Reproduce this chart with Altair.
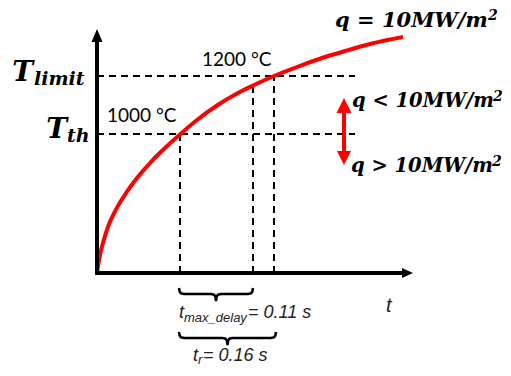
import altair as alt
import pandas as pd

# ---- data (schematic units: t to the right, T upward, origin at the axes' corner) ----
curve_t = [0, 1, 3, 5, 10, 20, 30, 40, 55, 70, 83, 100, 120, 140, 156, 177, 200, 225, 250, 275, 306]
curve_T = [0, 7, 18, 26.4, 43.4, 65.4, 81.4, 94.9, 112.2, 126.9, 138.6, 153, 167.5, 179.5, 187.5,
           197, 206, 215, 222.5, 229.5, 236]

T_th = 139
T_limit = 197
t_th = 83
t_delay = 156
T_delay = 190
t_r = 177
guide_end = 258
t_axis_end = 316
T_axis_end = 244

arrow_x = 247
arrow_top = 175
arrow_bottom = 108

brace_spans = [(82, 156), (82, 179)]
brace_tops = [-15, -59]

serif_labels = ["T", "limit", "T", "th",
                "q = 10MW/m", "2", "q < 10MW/m", "2", "q > 10MW/m", "2"]
serif_x = [-64, -63, -30, -30, 238, 391, 255, 396, 254, 395]
serif_y = [192, 188, 135, 131, 246, 253, 166, 172, 101, 107]
serif_sizes = [28, 19, 28, 19, 21, 14, 19.5, 14, 19.5, 14]

temp_labels = ["1000 °C", "1200 °C"]
temp_x = [10, 105]
temp_y = [151, 207]

time_labels = ["t", "max_delay", "= 0.11 s", "t", "r", "= 0.16 s", "t"]
time_x = [82, 87, 151, 96, 101, 106, 289]
time_y = [-45, -49, -45, -88, -91, -88, -39]
time_sizes = [18, 13, 18, 18, 13, 18, 20]

# ---- scales ----
xs = alt.Scale(domain=[-89, 406], nice=False, zero=False)
ys = alt.Scale(domain=[-95, 265], nice=False, zero=False)

def X(f="x"):
    return alt.X(f"{f}:Q", scale=xs, axis=None)

def Y(f="y"):
    return alt.Y(f"{f}:Q", scale=ys, axis=None)

# axes
axes_df = pd.DataFrame({
    "x": [0, 0], "x2": [0, t_axis_end - 9],
    "y": [0, 0], "y2": [T_axis_end - 11, 0],
})
axes = alt.Chart(axes_df).mark_rule(color="black", strokeWidth=4, strokeCap="square").encode(
    x=X(), x2="x2:Q", y=Y(), y2="y2:Q")

heads_df = pd.DataFrame({"x": [0], "y": [T_axis_end - 6.5]})
yhead = alt.Chart(heads_df).mark_point(
    shape="M0,-1L0.85,1L-0.85,1Z", size=169, filled=True, color="black", opacity=1
).encode(x=X(), y=Y())
xhead_df = pd.DataFrame({"x": [t_axis_end - 5.5], "y": [0]})
xhead = alt.Chart(xhead_df).mark_point(
    shape="M1,0L-1,0.9L-1,-0.9Z", size=121, filled=True, color="black", opacity=1
).encode(x=X(), y=Y())

# dashed guides
guides_df = pd.DataFrame({
    "x": [0, 0, t_th, t_delay, t_r],
    "x2": [guide_end, guide_end, t_th, t_delay, t_r],
    "y": [T_th, T_limit, 0, 0, 0],
    "y2": [T_th, T_limit, T_th, T_delay, T_limit],
})
guides = alt.Chart(guides_df).mark_rule(color="black", strokeWidth=2, strokeDash=[7, 5]).encode(
    x=X(), x2="x2:Q", y=Y(), y2="y2:Q")

# curve
curve_df = pd.DataFrame({"x": curve_t, "y": curve_T, "o": list(range(len(curve_t)))})
curve = alt.Chart(curve_df).mark_line(color="#ff0000", strokeWidth=4, interpolate="monotone").encode(
    x=X(), y=Y(), order="o:Q")

# red double arrow
shaft_df = pd.DataFrame({"x": [arrow_x], "y": [arrow_bottom + 13], "y2": [arrow_top - 15]})
shaft = alt.Chart(shaft_df).mark_rule(color="#ff0000", strokeWidth=4).encode(x=X(), y=Y(), y2="y2:Q")
up_df = pd.DataFrame({"x": [arrow_x], "y": [arrow_top - 7.5]})
up = alt.Chart(up_df).mark_point(shape="M0,-1L1,1L-1,1Z", size=225, filled=True,
                                 color="#ff0000", opacity=1).encode(x=X(), y=Y())
dn_df = pd.DataFrame({"x": [arrow_x], "y": [arrow_bottom + 7]})
dn = alt.Chart(dn_df).mark_point(shape="M0,1L1,-1L-1,-1Z", size=196, filled=True,
                                 color="#ff0000", opacity=1).encode(x=X(), y=Y())

# braces
rows = []
for b, ((x0, x1), yt) in enumerate(zip(brace_spans, brace_tops)):
    yf = yt - 6
    yp = yt - 13
    xm = (x0 + x1) / 2
    pts = [(x0, yt), (x0 + 0.6, yf + 2.5), (x0 + 2, yf + 0.7), (x0 + 5, yf),
           (xm - 5, yf), (xm - 2, yf - 0.7), (xm - 0.6, yf - 2.5), (xm, yp),
           (xm + 0.6, yf - 2.5), (xm + 2, yf - 0.7), (xm + 5, yf),
           (x1 - 5, yf), (x1 - 2, yf + 0.7), (x1 - 0.6, yf + 2.5), (x1, yt)]
    for i, (px, py) in enumerate(pts):
        rows.append({"x": px, "y": py, "o": i, "b": b})
brace_df = pd.DataFrame(rows)
braces = alt.Chart(brace_df).mark_line(color="black", strokeWidth=2.5).encode(
    x=X(), y=Y(), order="o:Q", detail="b:N")

# serif (math) labels
serif_df = pd.DataFrame({"text": serif_labels, "x": serif_x, "y": serif_y, "size": serif_sizes,
                         "align": ["right", "left", "right", "left"] + ["left"] * 6})
serif_layers = []
for al in ["left", "right"]:
    for sz in sorted(set(serif_sizes)):
        sub = serif_df[(serif_df["align"] == al) & (serif_df["size"] == sz)]
        if len(sub) == 0:
            continue
        serif_layers.append(
            alt.Chart(sub).mark_text(font="DejaVu Serif", fontWeight="bold", fontStyle="italic",
                                     fontSize=sz, align=al, baseline="alphabetic", color="black")
            .encode(x=X(), y=Y(), text="text:N"))

temp_df = pd.DataFrame({"text": temp_labels, "x": temp_x, "y": temp_y})
temps = alt.Chart(temp_df).mark_text(font="Lato", fontSize=19, align="left",
                                     baseline="alphabetic", color="black").encode(
    x=X(), y=Y(), text="text:N")

time_df = pd.DataFrame({"text": time_labels, "x": time_x, "y": time_y, "size": time_sizes})
time_layers = []
for sz in sorted(set(time_sizes)):
    sub = time_df[time_df["size"] == sz]
    time_layers.append(
        alt.Chart(sub).mark_text(font="Liberation Sans", fontStyle="italic", fontSize=sz,
                                 align="left", baseline="alphabetic", color="#222222")
        .encode(x=X(), y=Y(), text="text:N"))

chart = alt.layer(
    guides, curve, axes, yhead, xhead, shaft, up, dn, braces,
    *serif_layers, temps, *time_layers
).properties(
    width=495, height=360, padding=0, autosize=alt.AutoSizeParams(type="none")
).configure_view(stroke=None)

chart.save("out.html", embed_options={"renderer": "svg", "actions": False})
